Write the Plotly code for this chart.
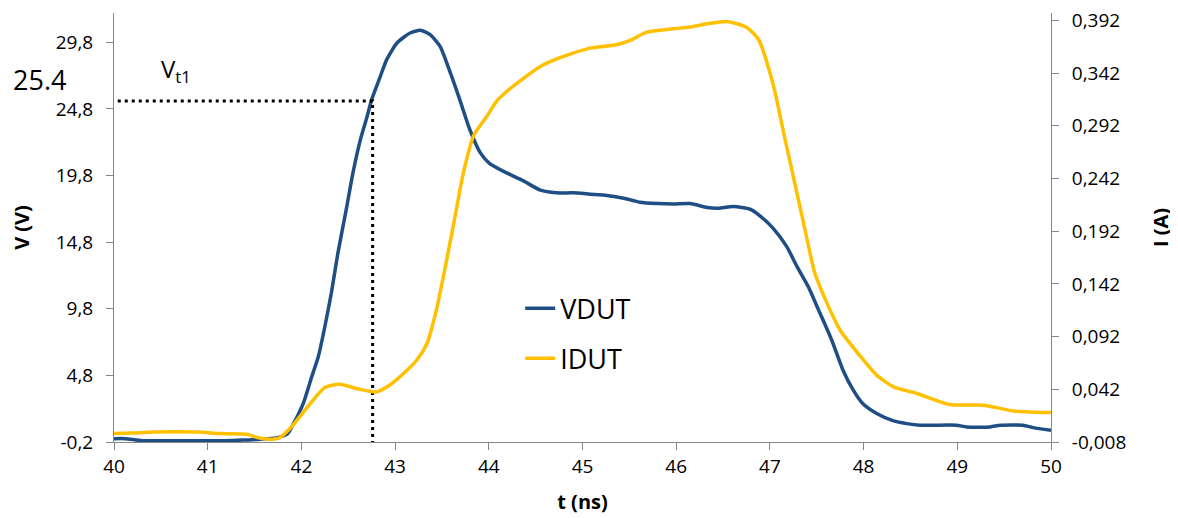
import plotly.graph_objects as go

# data
t_v = [40.00, 40.12, 40.30, 40.60, 40.90, 41.20, 41.40, 41.56, 41.74, 41.85,
       41.91, 42.02, 42.11, 42.18, 42.25, 42.32, 42.39, 42.48, 42.55, 42.63,
       42.70, 42.75, 42.84, 42.91, 43.02, 43.16, 43.27, 43.37, 43.48, 43.59,
       43.69, 43.80, 43.91, 44.01, 44.19, 44.37, 44.55, 44.72, 44.90, 45.08,
       45.26, 45.44, 45.61, 45.80, 45.97, 46.15, 46.33, 46.45, 46.61, 46.79,
       46.89, 47.04, 47.18, 47.29, 47.41, 47.52, 47.66, 47.78, 47.89, 47.99,
       48.14, 48.32, 48.46, 48.60, 48.99, 49.10, 49.35, 49.46, 49.70, 49.81,
       50.00]
vdut = [0.05, 0.05, -0.1, -0.1, -0.1, -0.1, -0.05, 0.0, 0.13, 0.4,
        1.1, 2.7, 4.7, 6.2, 8.45, 11.0, 14.0, 17.3, 20.0, 22.5,
        24.2, 25.5, 27.2, 28.5, 29.75, 30.5, 30.7, 30.4, 29.5, 27.5,
        25.5, 23.2, 21.5, 20.7, 20.0, 19.4, 18.7, 18.5, 18.5, 18.4,
        18.3, 18.1, 17.8, 17.7, 17.67, 17.7, 17.4, 17.35, 17.47, 17.27,
        16.8, 15.8, 14.46, 12.96, 11.45, 9.7, 7.45, 5.19, 3.69, 2.69,
        1.94, 1.38, 1.18, 1.06, 1.06, 0.93, 0.93, 1.06, 1.06, 0.88,
        0.68]

t_i = [40.00, 40.20, 40.42, 40.89, 41.13, 41.42, 41.53, 41.66, 41.77, 41.88,
       42.09, 42.25, 42.41, 42.59, 42.80, 42.94, 43.09, 43.23, 43.34, 43.44,
       43.55, 43.64, 43.73, 43.84, 43.98, 44.08, 44.19, 44.37, 44.55,
       44.72, 44.90, 45.08, 45.36, 45.51, 45.68, 45.97, 46.15, 46.33, 46.54,
       46.75, 46.88, 47.04, 47.14, 47.25, 47.36, 47.48, 47.61, 47.75, 48.00,
       48.14, 48.32, 48.57, 48.92, 49.28, 49.60, 50.00]
idut = [0.0, 0.0005, 0.0015, 0.0015, 0.0, -0.0007, -0.0038, -0.0054, -0.0038, 0.005,
        0.028, 0.0437, 0.0468, 0.0427, 0.0395, 0.0459, 0.057, 0.0696, 0.0855, 0.117,
        0.1646, 0.206, 0.248, 0.283, 0.301, 0.315, 0.3245, 0.337, 0.3483,
        0.3553, 0.361, 0.3657, 0.3689, 0.373, 0.3806, 0.384, 0.3857, 0.3888, 0.391,
        0.3855, 0.3736, 0.3293, 0.288, 0.2438, 0.1995, 0.152, 0.1235, 0.098, 0.0696,
        0.0554, 0.0443, 0.038, 0.0275, 0.0269, 0.0215, 0.0199]

v_ticks = [-0.2, 4.8, 9.8, 14.8, 19.8, 24.8, 29.8]
i_ticks = [-0.008, 0.042, 0.092, 0.142, 0.192, 0.242, 0.292, 0.342, 0.392]

vt1_t = 42.76
vt1_v = 25.4
x_start = 40.04
v_floor = -0.2

BLUE = "#1F4E84"
YELLOW = "#FFC000"
AXIS = "#868686"
FONT = "Open Sans"


def comma_labels(vals, fmt):
    return [format(v, fmt).replace(".", ",") for v in vals]


fig = go.Figure()

fig.add_trace(go.Scatter(
    x=t_v, y=vdut, name="VDUT", mode="lines", legendgroup="v",
    line=dict(color=BLUE, width=3.5, shape="spline", smoothing=0.6),
))
fig.add_trace(go.Scatter(
    x=t_i, y=idut, name="IDUT", mode="lines", legendgroup="i", yaxis="y2",
    line=dict(color=YELLOW, width=3.5, shape="spline", smoothing=0.6),
))

# Vt1 marker lines
fig.add_trace(go.Scatter(
    x=[x_start, vt1_t, vt1_t], y=[vt1_v, vt1_v, v_floor],
    mode="lines", showlegend=False, hoverinfo="skip",
    line=dict(color="black", width=3, dash="3px,4px"),
))

fig.add_annotation(
    x=-0.079, y=0.845, xref="paper", yref="paper", xanchor="center", yanchor="middle",
    text=str(vt1_v), showarrow=False, font=dict(family=FONT, size=27, color="black"),
)
fig.add_annotation(
    x=40.66, y=27.7, xref="x", yref="y", xanchor="center", yanchor="middle",
    text="V<sub>t1</sub>", showarrow=False, font=dict(family=FONT, size=24, color="black"),
)

tick_font = dict(family=FONT, size=19, color="black")
title_font = dict(family=FONT, size=20, color="black")

# page body keeps an 8px margin, so the figure is 8px smaller
fig.update_layout(
    width=1170,
    height=510,
    margin=dict(l=106, r=127, t=5, b=76),
    paper_bgcolor="white",
    plot_bgcolor="white",
    font=dict(family=FONT, color="black"),
    showlegend=True,
    legend=dict(
        x=0.4335, y=0.368, xanchor="left", yanchor="top",
        bgcolor="rgba(0,0,0,0)", font=dict(family=FONT, size=27, color="black"),
        traceorder="grouped", tracegroupgap=12,
    ),
    xaxis=dict(
        range=[40, 50], dtick=1, tick0=40, automargin=False,
        showgrid=False, zeroline=False,
        showline=True, linecolor=AXIS, linewidth=1,
        ticks="outside", ticklen=7, tickcolor=AXIS, ticklabelstandoff=0,
        tickfont=tick_font,
        title=dict(text="<b>t (ns)</b>", font=title_font, standoff=17),
    ),
    yaxis=dict(
        range=[-0.2, 32.0], tickmode="array", automargin=False,
        tickvals=v_ticks, ticktext=comma_labels(v_ticks, ".1f"),
        showgrid=False, zeroline=False,
        showline=True, linecolor=AXIS, linewidth=1,
        ticks="outside", ticklen=7, tickcolor=AXIS, ticklabelstandoff=9,
        ticklabeloverflow="allow",
        tickfont=tick_font,
        title=dict(text="<b>V (V)</b>", font=title_font, standoff=22),
    ),
    yaxis2=dict(
        overlaying="y", side="right", automargin=False,
        range=[-0.008, 0.399], tickmode="array",
        tickvals=i_ticks, ticktext=comma_labels(i_ticks, ".3f"),
        showgrid=False, zeroline=False,
        showline=True, linecolor=AXIS, linewidth=1,
        ticks="outside", ticklen=7, tickcolor=AXIS, ticklabelstandoff=9,
        ticklabeloverflow="allow",
        tickfont=tick_font,
        title=dict(text="<b>I (A)</b>", font=title_font, standoff=28),
    ),
)

fig.write_html("out.html")
